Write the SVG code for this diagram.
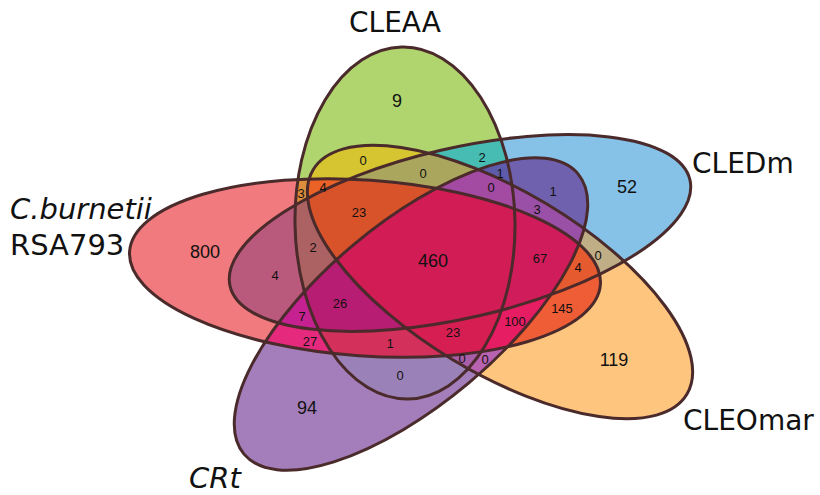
<svg xmlns="http://www.w3.org/2000/svg" xmlns:xlink="http://www.w3.org/1999/xlink" width="820" height="495" viewBox="0 0 820 495">
<style>
.o{fill:none;stroke:#4a2a2a;stroke-width:3}
.s{font-family:"Liberation Sans",Arial,sans-serif;font-size:13px;text-anchor:middle;fill:#111}
.b{font-family:"Liberation Sans",Arial,sans-serif;font-size:18px;text-anchor:middle;fill:#111}
.t{font-family:"DejaVu Sans","Liberation Sans",sans-serif;font-size:28px;fill:#111}
.i{font-style:italic;font-size:29px}
</style>
<defs>
<ellipse id="eR" cx="365" cy="268" rx="236" ry="88" transform="rotate(4 365 268)"/>
<ellipse id="eG" cx="405" cy="223" rx="110" ry="176" transform="rotate(-1 405 223)"/>
<ellipse id="eB" cx="460" cy="233" rx="236" ry="85" transform="rotate(-13 460 233)"/>
<ellipse id="eO" cx="500" cy="282" rx="218" ry="91" transform="rotate(31 500 282)"/>
<ellipse id="eP" cx="411" cy="314" rx="218" ry="90" transform="rotate(-40 411 314)"/>
<clipPath id="cR"><use href="#eR"/></clipPath>
<clipPath id="cG"><use href="#eG"/></clipPath>
<clipPath id="cB"><use href="#eB"/></clipPath>
<clipPath id="cO"><use href="#eO"/></clipPath>
<clipPath id="cP"><use href="#eP"/></clipPath>
</defs>
<rect width="820" height="495" fill="#fff"/>
<g id="regions">
<use href="#eR" fill="#F07A7E"/>
<use href="#eG" fill="#B0D46E"/>
<use href="#eB" fill="#86C1E8"/>
<use href="#eO" fill="#FEC57F"/>
<use href="#eP" fill="#A47EBA"/>
<g clip-path="url(#cR)"><use href="#eG" fill="#DD8E3C"/></g>
<g clip-path="url(#cR)"><use href="#eB" fill="#B95A7D"/></g>
<g clip-path="url(#cR)"><use href="#eO" fill="#EF5D37"/></g>
<g clip-path="url(#cR)"><use href="#eP" fill="#E52A7D"/></g>
<g clip-path="url(#cG)"><use href="#eB" fill="#46BCB3"/></g>
<g clip-path="url(#cG)"><use href="#eO" fill="#D6C531"/></g>
<g clip-path="url(#cG)"><use href="#eP" fill="#9A82B8"/></g>
<g clip-path="url(#cB)"><use href="#eO" fill="#C0AE87"/></g>
<g clip-path="url(#cB)"><use href="#eP" fill="#6F61AE"/></g>
<g clip-path="url(#cO)"><use href="#eP" fill="#B863B0"/></g>
<g clip-path="url(#cR)"><g clip-path="url(#cG)"><use href="#eB" fill="#AC6162"/></g></g>
<g clip-path="url(#cR)"><g clip-path="url(#cG)"><use href="#eO" fill="#EA6226"/></g></g>
<g clip-path="url(#cR)"><g clip-path="url(#cG)"><use href="#eP" fill="#D3305C"/></g></g>
<g clip-path="url(#cR)"><g clip-path="url(#cB)"><use href="#eO" fill="#E65A30"/></g></g>
<g clip-path="url(#cR)"><g clip-path="url(#cB)"><use href="#eP" fill="#C62190"/></g></g>
<g clip-path="url(#cR)"><g clip-path="url(#cO)"><use href="#eP" fill="#E61D62"/></g></g>
<g clip-path="url(#cG)"><g clip-path="url(#cB)"><use href="#eO" fill="#ABA65E"/></g></g>
<g clip-path="url(#cG)"><g clip-path="url(#cB)"><use href="#eP" fill="#5E5BAA"/></g></g>
<g clip-path="url(#cG)"><g clip-path="url(#cO)"><use href="#eP" fill="#A85EA9"/></g></g>
<g clip-path="url(#cB)"><g clip-path="url(#cO)"><use href="#eP" fill="#9A50A6"/></g></g>
<g clip-path="url(#cR)"><g clip-path="url(#cG)"><g clip-path="url(#cB)"><use href="#eO" fill="#D9532A"/></g></g></g>
<g clip-path="url(#cR)"><g clip-path="url(#cG)"><g clip-path="url(#cB)"><use href="#eP" fill="#B71D72"/></g></g></g>
<g clip-path="url(#cR)"><g clip-path="url(#cG)"><g clip-path="url(#cO)"><use href="#eP" fill="#D71E52"/></g></g></g>
<g clip-path="url(#cR)"><g clip-path="url(#cB)"><g clip-path="url(#cO)"><use href="#eP" fill="#D01C5A"/></g></g></g>
<g clip-path="url(#cG)"><g clip-path="url(#cB)"><g clip-path="url(#cO)"><use href="#eP" fill="#A34AA2"/></g></g></g>
<g clip-path="url(#cR)"><g clip-path="url(#cG)"><g clip-path="url(#cB)"><g clip-path="url(#cO)"><use href="#eP" fill="#D11C55"/></g></g></g></g>
</g>
<g id="set-cburnetii"><use href="#eR" class="o"/><text class="t i" x="10" y="219">C.burnetii</text><text class="t" x="10" y="255" style="font-size:29px">RSA793</text></g>
<g id="set-cleaa"><use href="#eG" class="o"/><text class="t" x="349" y="32">CLEAA</text></g>
<g id="set-cledm"><use href="#eB" class="o"/><text class="t" x="692" y="173">CLEDm</text></g>
<g id="set-cleomar"><use href="#eO" class="o"/><text class="t" x="683" y="430">CLEOmar</text></g>
<g id="set-crt"><use href="#eP" class="o"/><text class="t i" x="189" y="488">CRt</text></g>
<g id="counts">
<text class="b" x="397" y="107">9</text>
<text class="b" x="627" y="193">52</text>
<text class="b" x="205" y="258">800</text>
<text class="b" x="614" y="366">119</text>
<text class="b" x="307" y="414">94</text>
<text class="b" x="433" y="267">460</text>
<text class="s" x="363" y="165">0</text>
<text class="s" x="482" y="162">2</text>
<text class="s" x="423" y="178">0</text>
<text class="s" x="500" y="178">1</text>
<text class="s" x="491" y="192">0</text>
<text class="s" x="553" y="196">1</text>
<text class="s" x="537" y="214">3</text>
<text class="s" x="301" y="198">3</text>
<text class="s" x="323" y="192">4</text>
<text class="s" x="359" y="217">23</text>
<text class="s" x="313" y="252">2</text>
<text class="s" x="275" y="280">4</text>
<text class="s" x="540" y="263">67</text>
<text class="s" x="578" y="272">4</text>
<text class="s" x="598" y="260">0</text>
<text class="s" x="562" y="313">145</text>
<text class="s" x="515" y="326">100</text>
<text class="s" x="453" y="337">23</text>
<text class="s" x="340" y="308">26</text>
<text class="s" x="302" y="321">7</text>
<text class="s" x="310" y="346">27</text>
<text class="s" x="390" y="348">1</text>
<text class="s" x="400" y="380">0</text>
<text class="s" x="462" y="363">0</text>
<text class="s" x="485" y="364">0</text>
</g>
</svg>
